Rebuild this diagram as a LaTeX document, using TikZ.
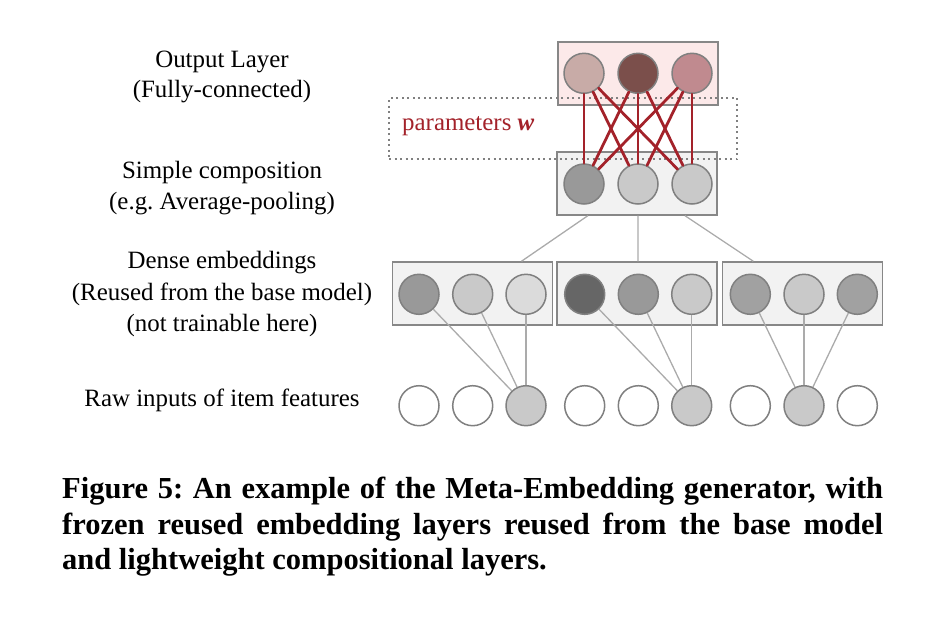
\documentclass[tikz,border=0pt]{standalone}
\usepackage{fontspec}
\setmainfont{Liberation Serif}
\frenchspacing
\begin{document}
\begin{tikzpicture}[x=1pt,y=-1pt,
  lbl/.style={anchor=base,inner sep=0pt,font=\fontsize{24.9}{30}\selectfont},
  layerbox/.style={draw=black!47,line width=1.5pt,fill=black!5,minimum width=160pt,minimum height=63pt,inner sep=0pt},
  unit/.style={circle,draw=black!50,line width=1.5pt,minimum size=40pt,inner sep=0pt},
  greyline/.style={draw=black!33,line width=1.3pt},
  wline/.style={draw=wred,line width=2.8pt,line cap=round},
]
\definecolor{pinkbox}{HTML}{FCE9E9}
\definecolor{oA}{HTML}{C8ABA7}
\definecolor{oB}{HTML}{7B4F4B}
\definecolor{oC}{HTML}{C08A8F}
\definecolor{wred}{HTML}{A3222A}
\useasboundingbox (0,0) rectangle (926,616);

% labels
\node[lbl] (l1) at (222,67) {Output Layer};
\node[lbl] (l2) at (222,97.5) {(Fully-connected)};
\node[lbl] (l3) at (222,178) {Simple composition};
\node[lbl] (l4) at (222,209) {(e.g. Average-pooling)};
\node[lbl] (l5) at (222,268.5) {Dense embeddings};
\node[lbl] (l6) at (222,300) {(Reused from the base model)};
\node[lbl] (l7) at (222,331) {(not trainable here)};
\node[lbl] (l8) at (222,406) {Raw inputs of item features};

% boxes
\node[layerbox,fill=pinkbox] (out) at (637.9,73.4) {};
\node[layerbox] (comp) at (636.9,183.4) {};
\node[layerbox] (e1) at (472.5,293.5) {};
\node[layerbox] (e2) at (637,293.5) {};
\node[layerbox] (e3) at (802.3,293.5) {};

% dotted parameter region
\node[draw=black!50,line width=1.3pt,dash pattern=on 2pt off 3.5pt,minimum width=348pt,minimum height=61pt,inner sep=0pt] (par) at (563,128.5) {};
\node[anchor=base west,inner sep=0pt,text=wred,font=\fontsize{24.9}{30}\selectfont] (pw) at (402,130) {parameters \textbf{\textit{w}}};

% output units
\node[unit,fill=oA] (o1) at (584,73.3) {};
\node[unit,fill=oB] (o2) at (638,73.3) {};
\node[unit,fill=oC] (o3) at (692,73.3) {};
% composition units
\node[unit,fill=black!40] (c1) at (584,184) {};
\node[unit,fill=black!21] (c2) at (638,184) {};
\node[unit,fill=black!21] (c3) at (692,184) {};
% dense units
\node[unit,fill=black!40] (d1) at (419,294.3) {};
\node[unit,fill=black!21] (d2) at (472.7,294.3) {};
\node[unit,fill=black!14] (d3) at (526,294.3) {};
\node[unit,fill=black!60] (d4) at (584.7,294.3) {};
\node[unit,fill=black!40] (d5) at (638.3,294.3) {};
\node[unit,fill=black!21] (d6) at (691.7,294.3) {};
\node[unit,fill=black!37] (d7) at (750.3,294.3) {};
\node[unit,fill=black!21] (d8) at (804,294.3) {};
\node[unit,fill=black!37] (d9) at (857.3,294.3) {};
% raw inputs
\node[unit,fill=white] (r1) at (419,405.7) {};
\node[unit,fill=white] (r2) at (472.7,405.7) {};
\node[unit,fill=black!21] (r3) at (526,405.7) {};
\node[unit,fill=white] (r4) at (584.7,405.7) {};
\node[unit,fill=white] (r5) at (638.3,405.7) {};
\node[unit,fill=black!21] (r6) at (691.7,405.7) {};
\node[unit,fill=white] (r7) at (750.3,405.7) {};
\node[unit,fill=black!21] (r8) at (804,405.7) {};
\node[unit,fill=white] (r9) at (857.3,405.7) {};

% fully connected weights
\foreach \a in {1,2,3}{
  \foreach \b in {1,2,3}{
    \draw[wline] (o\a) -- (c\b);
  }
}

% composition to embeddings
\draw[greyline] ([xshift=-49pt]comp.south) -- ([xshift=49pt]e1.north);
\draw[greyline] ([xshift=1pt]comp.south) -- ([xshift=1pt]e2.north);
\draw[greyline] ([xshift=48pt]comp.south) -- ([xshift=-49pt]e3.north);

% embeddings to raw inputs
\draw[greyline] (d1) -- (r3);
\draw[greyline] (d2) -- (r3);
\draw[greyline] (d3) -- (r3);
\draw[greyline] (d4) -- (r6);
\draw[greyline] (d5) -- (r6);
\draw[greyline] (d6) -- (r6);
\draw[greyline] (d7) -- (r8);
\draw[greyline] (d8) -- (r8);
\draw[greyline] (d9) -- (r8);

% caption
\node[anchor=base west,inner sep=0pt,font=\fontsize{30.5}{36}\selectfont\bfseries] (cap1) at (62,498)
  {\makebox[821pt][s]{Figure 5: An example of the Meta-Embedding generator, with}};
\node[anchor=base west,inner sep=0pt,font=\fontsize{30.5}{36}\selectfont\bfseries] (cap2) at (62,534)
  {\makebox[821pt][s]{frozen reused embedding layers reused from the base model}};
\node[anchor=base west,inner sep=0pt,font=\fontsize{30.5}{36}\selectfont\bfseries] (cap3) at (62,569.5)
  {and lightweight compositional layers.};
\end{tikzpicture}
\end{document}
